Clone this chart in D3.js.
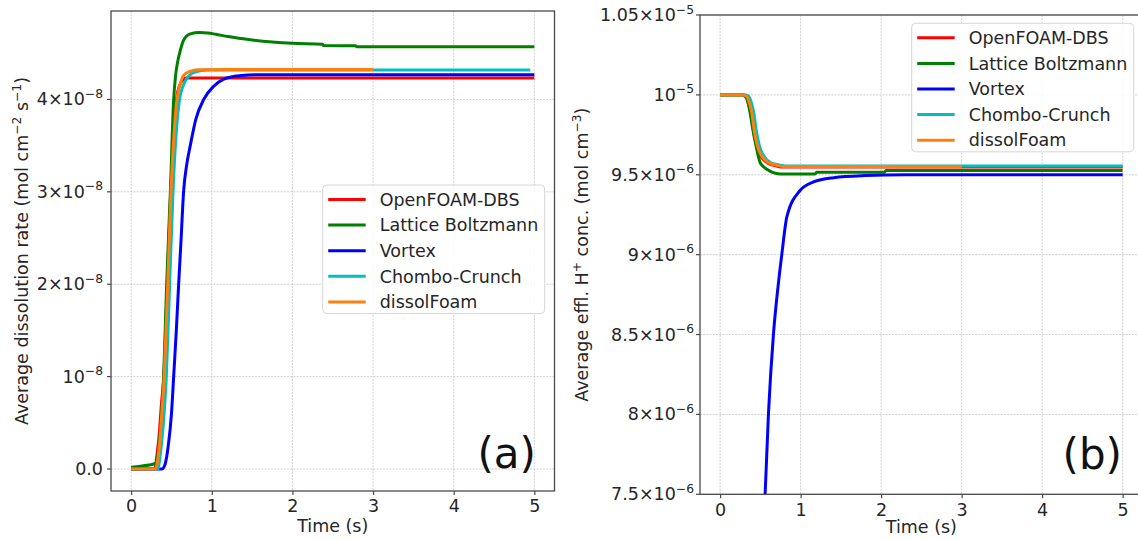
<!DOCTYPE html>
<html><head><meta charset="utf-8">
<script src="https://cdn.jsdelivr.net/npm/d3@7"></script>
<style>
html,body{margin:0;padding:0;background:#fff;}
svg{display:block;font-family:"DejaVu Sans",sans-serif;}
</style></head><body>
<svg id="chart" width="1138" height="539"></svg>
<script>
// ---------- DATA ----------
const seriesNames = ["OpenFOAM-DBS", "Lattice Boltzmann", "Vortex", "Chombo-Crunch", "dissolFoam"];
const seriesColors = ["#ff0000", "#008000", "#0000ff", "#00bfbf", "#ff7f0e"];

const timeTicks = [0, 1, 2, 3, 4, 5];

// Panel (a): average dissolution rate, in units of 1e-8 mol cm^-2 s^-1
const rateTicks = [0, 1, 2, 3, 4];
const rateTickLabels = [["0.0", ""], ["10", "−8"], ["2×10", "−8"], ["3×10", "−8"], ["4×10", "−8"]];

const rateRedT = [0, 0.29, 0.32, 0.35, 0.375, 0.405, 0.448, 0.49, 0.525, 0.56, 0.60, 0.64, 0.68, 5.0];
const rateRedV = [0, 0, 0.15, 0.4, 0.7, 1.0, 2.0, 3.0, 3.6, 4.0, 4.15, 4.21, 4.232, 4.232];
const rateGreenT = [0, 0.30, 0.33, 0.37, 0.403, 0.44, 0.486, 0.527, 0.55, 0.575, 0.601, 0.65, 0.733, 0.85, 0.95, 1.05, 1.2, 1.5, 2.0, 2.37, 2.39, 2.78, 2.80, 5.0];
const rateGreenV = [0.02, 0.06, 0.15, 0.5, 1.0, 2.0, 3.0, 4.0, 4.25, 4.4, 4.5, 4.64, 4.71, 4.725, 4.72, 4.705, 4.68, 4.643, 4.607, 4.597, 4.583, 4.580, 4.571, 4.571];
const rateBlueT = [0, 0.38, 0.42, 0.46, 0.50, 0.527, 0.56, 0.589, 0.62, 0.65, 0.69, 0.733, 0.80, 0.90, 1.02, 1.15, 1.34, 1.6, 5.0];
const rateBlueV = [0, 0, 0.05, 0.25, 0.6, 1.0, 1.5, 2.0, 2.5, 3.0, 3.3, 3.5, 3.78, 4.0, 4.14, 4.22, 4.255, 4.267, 4.267];
const rateCyanT = [0, 0.33, 0.36, 0.40, 0.436, 0.477, 0.519, 0.56, 0.60, 0.65, 0.71, 0.80, 0.95, 4.95];
const rateCyanV = [0, 0, 0.15, 0.5, 1.0, 2.0, 3.0, 3.65, 4.0, 4.16, 4.25, 4.30, 4.318, 4.318];
const rateOrangeT = [0, 0.30, 0.33, 0.36, 0.38, 0.41, 0.453, 0.494, 0.53, 0.568, 0.61, 0.65, 0.72, 0.84, 1.2, 3.0];
const rateOrangeV = [0, 0, 0.1, 0.35, 0.6, 1.0, 2.0, 3.0, 3.6, 4.0, 4.17, 4.26, 4.30, 4.32, 4.325, 4.325];

// Panel (b): average effluent H+ concentration, in units of 1e-6 mol cm^-3
const concTicks = [7.5, 8, 8.5, 9, 9.5, 10, 10.5];
const concTickLabels = [["7.5×10", "−6"], ["8×10", "−6"], ["8.5×10", "−6"], ["9×10", "−6"], ["9.5×10", "−6"], ["10", "−5"], ["1.05×10", "−5"]];

const concRedT = [0, 0.28, 0.32, 0.355, 0.385, 0.415, 0.458, 0.512, 0.595, 0.70, 0.78, 5.0];
const concRedV = [10, 10, 9.985, 9.94, 9.875, 9.775, 9.672, 9.612, 9.572, 9.555, 9.548, 9.548];
const concGreenT = [0, 0.30, 0.335, 0.373, 0.406, 0.447, 0.497, 0.54, 0.58, 0.65, 0.745, 1.18, 1.20, 2.04, 2.06, 5.0];
const concGreenV = [10, 10, 9.975, 9.886, 9.783, 9.679, 9.576, 9.55, 9.534, 9.515, 9.505, 9.505, 9.515, 9.515, 9.527, 9.527];
const concBlueT = [0.559, 0.60, 0.662, 0.724, 0.766, 0.83, 0.99, 1.16, 1.41, 1.8, 2.3, 5.0];
const concBlueV = [7.5, 8.0, 8.5, 8.82, 9.0, 9.239, 9.40, 9.455, 9.482, 9.495, 9.5, 9.5];
const concCyanT = [0, 0.32, 0.356, 0.39, 0.419, 0.447, 0.489, 0.543, 0.626, 0.729, 0.81, 5.0];
const concCyanV = [10, 10, 9.99, 9.948, 9.886, 9.783, 9.679, 9.617, 9.576, 9.562, 9.555, 9.555];
const concOrangeT = [0, 0.29, 0.331, 0.365, 0.394, 0.422, 0.464, 0.518, 0.601, 0.704, 0.787, 3.0];
const concOrangeV = [10, 10, 9.99, 9.948, 9.886, 9.783, 9.679, 9.617, 9.576, 9.559, 9.551, 9.551];

// ---------- DRAWING ----------
const svg = d3.select("#chart");
svg.append("rect").attr("width", 1138).attr("height", 539).attr("fill", "#fff");

const FS = 17.5, SUP = 12.3;
const zip = (t, v) => t.map((d, i) => [d, v[i]]);

function panel(cfg, idx) {
  const x = d3.scaleLinear().domain([-0.25, 5.25]).range([cfg.left, cfg.right]);
  const y = d3.scaleLinear().domain(cfg.yDomain).range([cfg.bottom, cfg.top]);
  const g = svg.append("g");
  const clipId = "clip" + idx;
  g.append("clipPath").attr("id", clipId).append("rect")
    .attr("x", cfg.left).attr("y", cfg.top)
    .attr("width", cfg.right - cfg.left).attr("height", cfg.bottom - cfg.top);

  // grid
  const grid = g.append("g").attr("stroke", "#cfcfcf").attr("stroke-width", 1).attr("stroke-dasharray", "2,1.2");
  timeTicks.forEach(t => grid.append("line").attr("x1", x(t)).attr("x2", x(t)).attr("y1", cfg.top).attr("y2", cfg.bottom));
  cfg.yTicks.forEach(v => grid.append("line").attr("x1", cfg.left).attr("x2", cfg.right).attr("y1", y(v)).attr("y2", y(v)));

  // series
  const line = d3.line().x(d => x(d[0])).y(d => y(d[1])).curve(d3.curveMonotoneX);
  const lines = g.append("g").attr("clip-path", `url(#${clipId})`);
  cfg.series.forEach((s, i) => {
    lines.append("path").datum(s).attr("d", line).attr("fill", "none")
      .attr("stroke", seriesColors[i]).attr("stroke-width", 3).attr("stroke-linejoin", "round");
  });

  // frame
  g.append("rect").attr("x", cfg.left).attr("y", cfg.top)
    .attr("width", cfg.right - cfg.left).attr("height", cfg.bottom - cfg.top)
    .attr("fill", "none").attr("stroke", "#4a4a4a").attr("stroke-width", 1.3);

  // x axis ticks
  const xa = g.append("g").attr("transform", `translate(0,${cfg.bottom})`)
    .call(d3.axisBottom(x).tickValues(timeTicks).tickFormat(d3.format("d")).tickSize(4).tickPadding(5));
  xa.select(".domain").remove();
  xa.selectAll(".tick line").attr("stroke", "#4a4a4a").attr("stroke-width", 1.2);
  xa.selectAll(".tick text").attr("font-size", FS).attr("font-family", "DejaVu Sans").attr("fill", "#262626");

  // y ticks
  const ya = g.append("g");
  cfg.yTicks.forEach((v, i) => {
    const yy = y(v);
    ya.append("line").attr("x1", cfg.left - 4).attr("x2", cfg.left).attr("y1", yy).attr("y2", yy)
      .attr("stroke", "#4a4a4a").attr("stroke-width", 1.2);
    const lab = cfg.yTickLabels[i];
    const t = ya.append("text").attr("x", cfg.left - cfg.yLabelGap).attr("y", yy + 6)
      .attr("text-anchor", "end").attr("font-size", FS).attr("fill", "#262626");
    t.append("tspan").text(lab[0]);
    if (lab[1]) t.append("tspan").attr("font-size", SUP).attr("dy", -7.5).text(lab[1]);
  });

  // axis titles
  g.append("text").attr("x", (cfg.left + cfg.right) / 2).attr("y", cfg.bottom + cfg.xTitleOff)
    .attr("text-anchor", "middle").attr("font-size", FS).attr("fill", "#262626").text("Time (s)");
  const yt = g.append("text").attr("transform", `translate(${cfg.yTitleX},${(cfg.top + cfg.bottom) / 2}) rotate(-90)`)
    .attr("text-anchor", "middle").attr("font-size", FS).attr("fill", "#262626");
  cfg.yTitle.forEach(p => {
    const ts = yt.append("tspan").text(p[0]);
    if (p[1] === "sup") ts.attr("font-size", SUP).attr("dy", -7.5);
    if (p[1] === "back") ts.attr("dy", 7.5);
  });

  // legend
  const lg = g.append("g").attr("transform", `translate(${cfg.legX},${cfg.legY})`);
  lg.append("rect").attr("width", 222).attr("height", 128.5).attr("rx", 4)
    .attr("fill", "#fff").attr("fill-opacity", 0.85).attr("stroke", "#d6d6d6").attr("stroke-width", 1);
  seriesNames.forEach((n, i) => {
    const cy = 14.5 + i * 25.6;
    lg.append("line").attr("x1", 5.5).attr("x2", 43).attr("y1", cy).attr("y2", cy)
      .attr("stroke", seriesColors[i]).attr("stroke-width", 3);
    lg.append("text").attr("x", 57).attr("y", cy + 6.3).attr("font-size", FS).attr("fill", "#262626").text(n);
  });

  // panel label
  g.append("text").attr("x", cfg.tagX).attr("y", cfg.tagY).attr("text-anchor", "end")
    .attr("font-size", 42).attr("fill", "#111").text(cfg.tag);
}

panel({
  left: 111, right: 554.5, top: 11, bottom: 491,
  yDomain: [-0.238, 4.957], yTicks: rateTicks, yTickLabels: rateTickLabels, yLabelGap: 8,
  series: [zip(rateRedT, rateRedV), zip(rateGreenT, rateGreenV), zip(rateBlueT, rateBlueV), zip(rateCyanT, rateCyanV), zip(rateOrangeT, rateOrangeV)],
  xTitleOff: 40.5, yTitleX: 28,
  yTitle: [["Average dissolution rate (mol cm"], ["−2", "sup"], [" s", "back"], ["−1", "sup"], [")", "back"]],
  legX: 322.7, legY: 185, tag: "(a)", tagX: 536, tagY: 468
}, 0);

panel({
  left: 700, right: 1142.75, top: 15, bottom: 494.3,
  yDomain: [7.5, 10.5], yTicks: concTicks, yTickLabels: concTickLabels, yLabelGap: 6,
  series: [zip(concRedT, concRedV), zip(concGreenT, concGreenV), zip(concBlueT, concBlueV), zip(concCyanT, concCyanV), zip(concOrangeT, concOrangeV)],
  xTitleOff: 39, yTitleX: 588,
  yTitle: [["Average effl. H"], ["+", "sup"], [" conc. (mol cm", "back"], ["−3", "sup"], [")", "back"]],
  legX: 911.7, legY: 23.3, tag: "(b)", tagX: 1122, tagY: 469
}, 1);
</script>
</body></html>
